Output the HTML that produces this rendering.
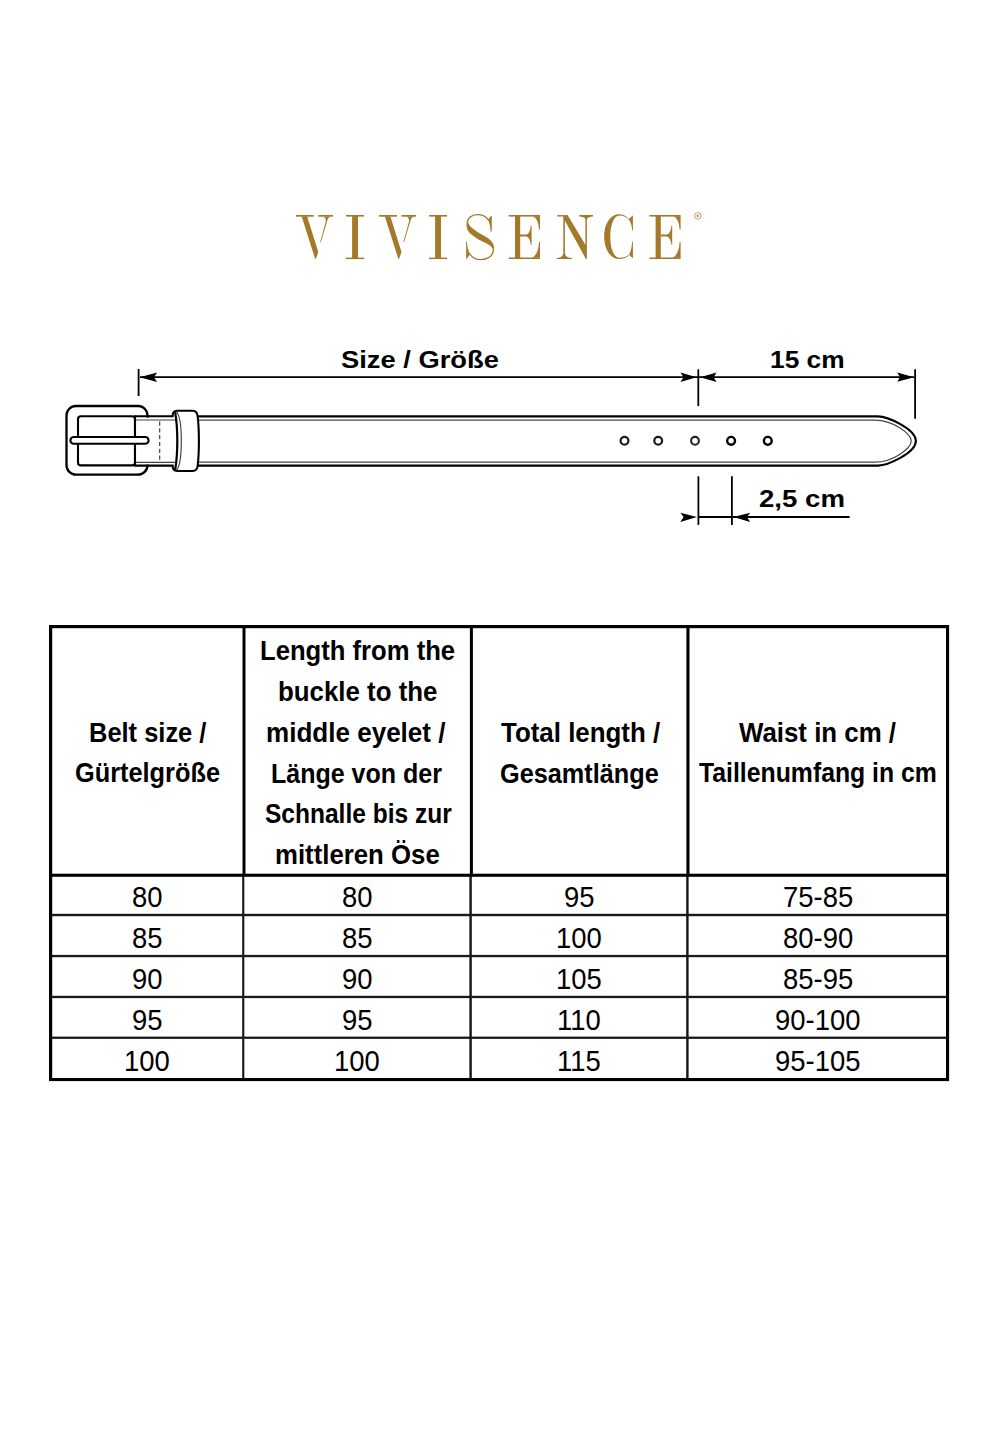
<!DOCTYPE html>
<html><head><meta charset="utf-8"><title>Vivisence Belt Size Chart</title>
<style>
html,body{margin:0;padding:0;background:#fff;}
body{width:1000px;height:1444px;position:relative;overflow:hidden;font-family:"Liberation Sans",sans-serif;color:#000;}
.t{position:absolute;white-space:nowrap;transform-origin:0 0;color:#000;}
svg.layer{position:absolute;left:0;top:0;}
</style></head><body>
<svg class="layer" width="1000" height="1444" viewBox="0 0 1000 1444">
<g id="logo" fill="#a4792a" stroke="none">
  <g id="V1">
    <path d="M295.9 215 H313.8 V216.7 H295.9 Z"/>
    <path d="M301.6 216.3 L307.1 216.3 L318.3 252 L315.8 259 L315.2 259 Z"/>
    <path d="M318.4 215 H333 V216.7 H318.4 Z"/>
    <path d="M323.3 216.6 L330.6 216.6 C328.6 217.4 327.6 219 327.2 221 L320.9 242.3 L320.1 242.3 L325.9 221 C326 219 325 217.4 323.3 216.6 Z"/>
  </g>
  <use href="#V1" transform="translate(83.2 0)"/>
  <g id="I1">
    <path d="M346 215 H364 V216.6 H346 Z"/>
    <path d="M352.1 216 H358 V258 H352.1 Z"/>
    <path d="M346 257.6 H364 V259.1 H346 Z"/>
  </g>
  <use href="#I1" transform="translate(83 0)"/>
  <!-- S -->
  <g>
    <path d="M488.2 219.8 C486 216.5 482 214.6 477.5 214.6 C471.5 214.6 467.3 218.2 467.3 223.2" fill="none" stroke="#a4792a" stroke-width="1.3"/>
    <path d="M493.4 249.5 C493.6 255.5 488 259.7 481 259.7 C476 259.7 472 257.6 469.8 254" fill="none" stroke="#a4792a" stroke-width="1.3"/>
    <path d="M466.7 222.5 C466 226.8 467 230.5 470 233.2 C474 237.6 482 241 487.5 243.9 C491 245.8 492.8 247.8 493.6 251.2 L494.1 248 C493.9 243.2 491 240 487 237.5 C482 234.5 475 231 471.6 227.5 C469.6 225.5 468.6 224.5 468.2 222.5 Z"/>
    <path d="M491.8 215.3 L491.8 231.6 L490.6 231.6 C490.3 226 489.5 222 487.8 219.8 Z"/>
    <path d="M466.1 241.2 L466.9 241.2 C467.1 246 468 250.5 470.3 254 L466.2 259.4 Z"/>
  </g>
  <g id="E1">
    <path d="M508.8 215 H540 V216.6 H508.8 Z"/>
    <path d="M515 215 H520.2 V259 H515 Z"/>
    <path d="M533 216.5 C536.5 218 538.5 222 539 229.6 L540 229.6 L540 216 Z"/>
    <path d="M520 234.5 H526.5 C529 233.8 530.4 230.5 530.8 225.6 H531.6 V244.8 H530.8 C530.4 240 529 237.2 526.5 236.4 H520 Z"/>
    <path d="M508.8 257.5 H540 V259 H508.8 Z"/>
    <path d="M540 242 L539 242 C538.6 250 536.5 255.5 532 257.7 L540 257.7 Z"/>
  </g>
  <use href="#E1" transform="translate(140.6 0)"/>
  <!-- N -->
  <g>
    <path d="M557 215.1 H567.8 V216.5 H557 Z"/>
    <path d="M563.3 216 H564.9 V258 H563.3 Z"/>
    <path d="M556.5 258 C559.5 258 562.5 257 563.3 253.5 L564.9 253.5 C565.7 257 568.8 258 572 258 V259.1 H556.5 Z"/>
    <path d="M563.8 218.8 L563.6 216.4 L567.7 215.2 L586.9 247.3 L586.9 258.9 L585.9 258.9 Z"/>
    <path d="M585.4 217 H586.9 V248 H585.4 Z"/>
    <path d="M579.2 215.1 H593 V216.5 C590 216.8 587.5 217.5 586.9 219.2 L585.4 219.2 C584.8 217.5 582.5 216.8 579.2 216.5 Z"/>
  </g>
  <!-- C -->
  <g>
    <path d="M629 218.9 C626.5 216 623 214.2 619 214.2 C610.5 214.2 604.2 224 604.2 236.6 C604.2 249.5 610.5 259 619 259 C623.5 259 627 257.5 629.3 255 L629.3 254.2 C627 256.5 624 257.8 619.5 257.8 C614 257.8 610.3 249 610.3 236.6 C610.3 224.5 614 215.4 619.5 215.4 C623.5 215.4 627 217 629 219.7 Z"/>
    <path d="M628.9 218.9 L632.9 215.3 L632.9 230.5 L632.2 230.5 C631.8 225.5 630.6 221.5 628.9 219.7 Z"/>
    <path d="M629.3 255 L632.9 258.6 L632.9 241.5 L632.2 241.5 C631.8 247 630.8 251.8 629.3 254.2 Z"/>
  </g>
  <!-- registered mark -->
  <circle cx="697.8" cy="215.9" r="3.3" fill="none" stroke="#b8955a" stroke-width="0.9"/>
  <circle cx="697.8" cy="215.9" r="1.3" fill="#c2a26c"/>
</g>

<g id="belt" fill="none" stroke="#000" stroke-linejoin="round" stroke-linecap="round">
  <!-- dimension: top -->
  <g stroke-width="1.8" stroke-linecap="butt">
    <path d="M140 377.2 H914"/>
    <path d="M138.6 369 V396"/>
    <path d="M698.3 369.3 V406.1"/>
    <path d="M915.1 369.3 V418.7"/>
    <path d="M698.4 476.3 V524.9"/>
    <path d="M731.9 476.3 V524.9"/>
    <path d="M698.4 517 H849.6"/>
  </g>
  <g fill="#000" stroke="none">
    <path d="M139.6 377.2 L157.2 372.4 L153.8 377.2 L157.2 382 Z"/>
    <path d="M696.6 377.2 L680.4 372.4 L683.6 377.2 L680.4 382 Z"/>
    <path d="M700.1 377.2 L716.6 372.4 L713.6 377.2 L716.6 382 Z"/>
    <path d="M914.1 377.2 L897.3 372.6 L900 377.2 L897.3 381.8 Z"/>
    <path d="M696.9 517 L680.3 512.8 L683.6 517 L680.3 521.9 Z"/>
    <path d="M733.4 517 L750.2 512.8 L746.9 517 L750.2 521.9 Z"/>
  </g>
  <!-- main strap -->
  <path d="M198 416.4 L878 416.4 C886.9 416.4 915.9 428.8 915.9 441 C915.9 453.2 886.9 465.6 878 465.6 L198 465.6" stroke-width="2.1"/>
  <path d="M198 420.1 L875 420.1 C892.6 420.1 911.2 433.5 911.2 441 C911.2 448.6 892.6 462.2 875 462.2 L198 462.2" stroke="#444" stroke-width="1.2"/>
  <!-- holes -->
  <g fill="#fff" stroke-width="2">
    <circle cx="624.5" cy="440.8" r="3.9" stroke="#1a1a1a" stroke-width="2.2"/>
    <circle cx="658.2" cy="440.8" r="3.9" stroke="#1a1a1a" stroke-width="2.2"/>
    <circle cx="695.0" cy="440.8" r="3.9" stroke="#222" stroke-width="2.1"/>
    <circle cx="731.1" cy="440.8" r="3.9" stroke="#000" stroke-width="2.4"/>
    <circle cx="767.8" cy="440.8" r="3.9" stroke="#000" stroke-width="2.4"/>
  </g>
  <!-- buckle frame -->
  <rect x="66.5" y="406" width="81" height="68.7" rx="9.5" fill="#fff" stroke-width="2.3"/>
  <rect x="78" y="416.2" width="57" height="49.2" rx="3" fill="#fff" stroke-width="2.1"/>
  <!-- strap segment between buckle and keeper -->
  <rect x="136" y="417.6" width="40" height="47" fill="#fff" stroke="none"/>
  <path d="M135 420.0 H176 M135 462.3 H176" stroke="#444" stroke-width="1.2"/>
  <path d="M135 416.2 V465.4" stroke-width="2.1"/>
  <path d="M159.7 421.5 V462" stroke="#333" stroke-width="1.1" stroke-dasharray="4.2 2.6" stroke-linecap="butt"/>
  <!-- prong -->
  <rect x="70.4" y="437" width="78.2" height="6.8" rx="3.4" fill="#fff" stroke-width="2.1"/>
  <!-- keeper -->
  <path d="M175.3 410.8 L192.6 410.8 C195.8 410.8 197.4 413 197.7 416.5 C199.3 430 199.3 452 197.7 465.5 C197.4 469 195.8 471 192.6 471 L175.3 471 C177.6 455 177.6 426 175.3 410.8 Z" fill="#fff" stroke="none"/>
  <path d="M135 416.3 H172.6 C172.6 413 174 410.8 177 410.8 L192.6 410.8 C195.8 410.8 197.4 413 197.7 416.5 C199.3 430 199.3 452 197.7 465.5 C197.4 469 195.8 471 192.6 471 L177 471 C174 471 172.6 468.6 172.6 465.6 H135" stroke-width="2.1" stroke-linejoin="miter"/>
  <path d="M175.2 412.5 C176.5 420 177.3 430 177.3 441 C177.3 452 176.5 462 175.2 469.5" stroke-width="2.2"/>
  <path d="M175.8 411.4 C179.5 414 181.3 425 181.3 441 C181.3 457 179.5 468 175.8 470.6" stroke="#333" stroke-width="1.1"/>
</g>

<g id="table">
  <!-- header column lines (3px black) -->
  <rect x="242.5" y="626" width="3.0" height="250" fill="#000"/>
  <rect x="469.9" y="626" width="3.0" height="250" fill="#000"/>
  <rect x="686.4" y="626" width="3.1" height="250" fill="#000"/>
  <!-- body column lines -->
  <rect x="242.2" y="875" width="2.1" height="205" fill="#141414"/>
  <rect x="469.4" y="875" width="2.4" height="205" fill="#141414"/>
  <rect x="686.2" y="875" width="2.4" height="205" fill="#141414"/>
  <!-- row lines -->
  <rect x="50" y="913.8" width="898" height="2.4" fill="#1a1a1a"/>
  <rect x="50" y="954.9" width="898" height="2.3" fill="#1a1a1a"/>
  <rect x="50" y="995.8" width="898" height="2.3" fill="#1a1a1a"/>
  <rect x="50" y="1036.6" width="898" height="2.3" fill="#1a1a1a"/>
  <!-- header bottom -->
  <rect x="50" y="873.7" width="898" height="3.1" fill="#000"/>
  <!-- outer border -->
  <rect x="49" y="625" width="900" height="3.2" fill="#000"/>
  <rect x="49" y="1078" width="900" height="3.1" fill="#000"/>
  <rect x="49" y="625" width="3.2" height="456" fill="#000"/>
  <rect x="946" y="625" width="3.1" height="456" fill="#000"/>
</g>

</svg>
<div class="t" id="t_size" style="left:341.29px;top:348.06px;font-family:'Liberation Sans',sans-serif;font-weight:700;font-size:24.5px;line-height:24.5px;transform:scaleX(1.1150)">Size / Größe</div>
<div class="t" id="t_15" style="left:769.51px;top:348.25px;font-family:'Liberation Sans',sans-serif;font-weight:700;font-size:24.5px;line-height:24.5px;transform:scaleX(1.0746)">15 cm</div>
<div class="t" id="t_25" style="left:758.65px;top:487.25px;font-family:'Liberation Sans',sans-serif;font-weight:700;font-size:24.5px;line-height:24.5px;transform:scaleX(1.1270)">2,5 cm</div>
<div class="t" id="h1a" style="left:89.34px;top:717.86px;font-family:'Liberation Sans',sans-serif;font-weight:700;font-size:28.5px;line-height:28.5px;transform:scaleX(0.8931)">Belt size /</div>
<div class="t" id="h1b" style="left:74.67px;top:758.26px;font-family:'Liberation Sans',sans-serif;font-weight:700;font-size:28.5px;line-height:28.5px;transform:scaleX(0.8889)">Gürtelgröße</div>
<div class="t" id="h2a" style="left:260.39px;top:636.46px;font-family:'Liberation Sans',sans-serif;font-weight:700;font-size:28.5px;line-height:28.5px;transform:scaleX(0.8995)">Length from the</div>
<div class="t" id="h2b" style="left:277.60px;top:677.26px;font-family:'Liberation Sans',sans-serif;font-weight:700;font-size:28.5px;line-height:28.5px;transform:scaleX(0.9069)">buckle to the</div>
<div class="t" id="h2c" style="left:266.31px;top:718.07px;font-family:'Liberation Sans',sans-serif;font-weight:700;font-size:28.5px;line-height:28.5px;transform:scaleX(0.9138)">middle eyelet /</div>
<div class="t" id="h2d" style="left:271.43px;top:758.67px;font-family:'Liberation Sans',sans-serif;font-weight:700;font-size:28.5px;line-height:28.5px;transform:scaleX(0.8777)">Länge von der</div>
<div class="t" id="h2e" style="left:264.88px;top:799.46px;font-family:'Liberation Sans',sans-serif;font-weight:700;font-size:28.5px;line-height:28.5px;transform:scaleX(0.8606)">Schnalle bis zur</div>
<div class="t" id="h2f" style="left:274.94px;top:840.26px;font-family:'Liberation Sans',sans-serif;font-weight:700;font-size:28.5px;line-height:28.5px;transform:scaleX(0.9044)">mittleren Öse</div>
<div class="t" id="h3a" style="left:501.00px;top:717.86px;font-family:'Liberation Sans',sans-serif;font-weight:700;font-size:28.5px;line-height:28.5px;transform:scaleX(0.9086)">Total length /</div>
<div class="t" id="h3b" style="left:500.11px;top:759.07px;font-family:'Liberation Sans',sans-serif;font-weight:700;font-size:28.5px;line-height:28.5px;transform:scaleX(0.8870)">Gesamtlänge</div>
<div class="t" id="h4a" style="left:738.85px;top:717.86px;font-family:'Liberation Sans',sans-serif;font-weight:700;font-size:28.5px;line-height:28.5px;transform:scaleX(0.9070)">Waist in cm /</div>
<div class="t" id="h4b" style="left:699.18px;top:758.46px;font-family:'Liberation Sans',sans-serif;font-weight:700;font-size:28.5px;line-height:28.5px;transform:scaleX(0.8699)">Taillenumfang in cm</div>
<div class="t" id="d00" style="left:132.25px;top:882.02px;font-family:'Liberation Sans',sans-serif;font-weight:400;font-size:29.5px;line-height:29.5px;transform:scaleX(0.9300)">80</div>
<div class="t" id="d01" style="left:342.25px;top:882.02px;font-family:'Liberation Sans',sans-serif;font-weight:400;font-size:29.5px;line-height:29.5px;transform:scaleX(0.9300)">80</div>
<div class="t" id="d02" style="left:564.15px;top:882.02px;font-family:'Liberation Sans',sans-serif;font-weight:400;font-size:29.5px;line-height:29.5px;transform:scaleX(0.9300)">95</div>
<div class="t" id="d03" style="left:782.66px;top:882.02px;font-family:'Liberation Sans',sans-serif;font-weight:400;font-size:29.5px;line-height:29.5px;transform:scaleX(0.9300)">75-85</div>
<div class="t" id="d10" style="left:132.25px;top:922.92px;font-family:'Liberation Sans',sans-serif;font-weight:400;font-size:29.5px;line-height:29.5px;transform:scaleX(0.9300)">85</div>
<div class="t" id="d11" style="left:342.25px;top:922.92px;font-family:'Liberation Sans',sans-serif;font-weight:400;font-size:29.5px;line-height:29.5px;transform:scaleX(0.9300)">85</div>
<div class="t" id="d12" style="left:555.78px;top:922.92px;font-family:'Liberation Sans',sans-serif;font-weight:400;font-size:29.5px;line-height:29.5px;transform:scaleX(0.9300)">100</div>
<div class="t" id="d13" style="left:782.66px;top:922.92px;font-family:'Liberation Sans',sans-serif;font-weight:400;font-size:29.5px;line-height:29.5px;transform:scaleX(0.9300)">80-90</div>
<div class="t" id="d20" style="left:132.25px;top:963.82px;font-family:'Liberation Sans',sans-serif;font-weight:400;font-size:29.5px;line-height:29.5px;transform:scaleX(0.9300)">90</div>
<div class="t" id="d21" style="left:342.25px;top:963.82px;font-family:'Liberation Sans',sans-serif;font-weight:400;font-size:29.5px;line-height:29.5px;transform:scaleX(0.9300)">90</div>
<div class="t" id="d22" style="left:555.78px;top:963.82px;font-family:'Liberation Sans',sans-serif;font-weight:400;font-size:29.5px;line-height:29.5px;transform:scaleX(0.9300)">105</div>
<div class="t" id="d23" style="left:782.66px;top:963.82px;font-family:'Liberation Sans',sans-serif;font-weight:400;font-size:29.5px;line-height:29.5px;transform:scaleX(0.9300)">85-95</div>
<div class="t" id="d30" style="left:132.25px;top:1004.72px;font-family:'Liberation Sans',sans-serif;font-weight:400;font-size:29.5px;line-height:29.5px;transform:scaleX(0.9300)">95</div>
<div class="t" id="d31" style="left:342.25px;top:1004.72px;font-family:'Liberation Sans',sans-serif;font-weight:400;font-size:29.5px;line-height:29.5px;transform:scaleX(0.9300)">95</div>
<div class="t" id="d32" style="left:557.18px;top:1004.72px;font-family:'Liberation Sans',sans-serif;font-weight:400;font-size:29.5px;line-height:29.5px;transform:scaleX(0.9300)">110</div>
<div class="t" id="d33" style="left:775.22px;top:1004.72px;font-family:'Liberation Sans',sans-serif;font-weight:400;font-size:29.5px;line-height:29.5px;transform:scaleX(0.9300)">90-100</div>
<div class="t" id="d40" style="left:124.35px;top:1045.63px;font-family:'Liberation Sans',sans-serif;font-weight:400;font-size:29.5px;line-height:29.5px;transform:scaleX(0.9300)">100</div>
<div class="t" id="d41" style="left:334.35px;top:1045.63px;font-family:'Liberation Sans',sans-serif;font-weight:400;font-size:29.5px;line-height:29.5px;transform:scaleX(0.9300)">100</div>
<div class="t" id="d42" style="left:557.18px;top:1045.63px;font-family:'Liberation Sans',sans-serif;font-weight:400;font-size:29.5px;line-height:29.5px;transform:scaleX(0.9300)">115</div>
<div class="t" id="d43" style="left:775.22px;top:1045.63px;font-family:'Liberation Sans',sans-serif;font-weight:400;font-size:29.5px;line-height:29.5px;transform:scaleX(0.9300)">95-105</div>
</body></html>
